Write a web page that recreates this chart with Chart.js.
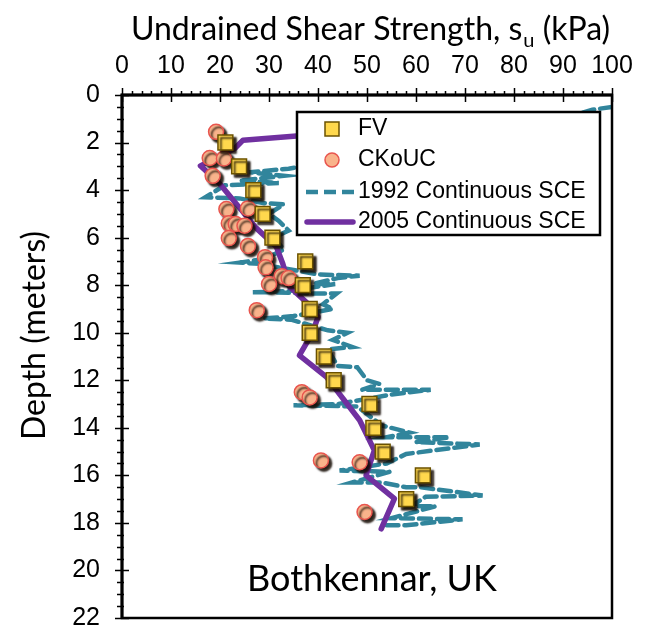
<!DOCTYPE html>
<html>
<head>
<meta charset="utf-8">
<script src="https://cdn.jsdelivr.net/npm/chart.js@4.4.1/dist/chart.umd.min.js"></script>
<style>
  html, body { margin: 0; padding: 0; background: #fff; }
  #wrap { width: 665px; height: 630px; }
</style>
</head>
<body>
<div id="wrap"><canvas id="suChart"></canvas></div>
<script>
// field vane (FV) results, one per metre
var fvDepth = [2, 3, 4, 5, 6, 7, 8, 9, 10, 11, 12, 13, 14, 15, 16, 17];
var fvSu = [21.1, 23.9, 26.8, 28.7, 30.7, 37.4, 36.9, 38.3, 38.3, 41.2, 43.2, 50.5, 51.3, 53.2, 61.4, 58.0];

// CKoUC triaxial tests
var ckDepth = [1.55, 2.65, 2.67, 3.4, 4.77, 4.8, 5.4, 5.43, 5.5, 6.02, 6.35, 6.82, 7.25, 7.62, 7.7, 7.95, 9.05, 12.5, 12.72, 15.37, 15.45, 17.54];
var ckSu = [19.2, 17.9, 20.8, 18.5, 25.7, 21.3, 21.8, 23.2, 25.0, 21.8, 25.7, 29.2, 29.3, 32.6, 34.0, 30.0, 27.5, 36.7, 38.3, 40.6, 48.5, 49.5];

// 1992 continuous SCE profile
var sce1992Depth = [0.5, 0.62, 1.3, 3.1, 3.25, 3.4, 3.6, 3.7, 3.8, 4.3, 4.35, 4.55, 4.6, 5.0, 5.3, 5.7, 6.0, 6.5, 6.9, 7.05, 7.1, 7.55, 7.6, 7.7, 7.95, 7.95, 8.25, 8.3, 8.3, 8.35, 8.35, 8.8, 9.0, 9.3, 9.4, 9.45, 9.9, 10.0, 10.3, 10.6, 10.7, 11.4, 11.45, 12.0, 12.15, 12.4, 12.4, 12.6, 13.0, 13.05, 13.1, 13.9, 14.2, 14.4, 14.4, 14.6, 14.7, 15.1, 15.5, 15.8, 15.85, 16.3, 16.3, 16.5, 16.5, 16.85, 16.9, 17.3, 17.3, 17.8, 17.85, 18.1, 18.1];
var sce1992Su = [100, 96, 85, 34, 26, 33, 24, 32, 21, 17, 24, 29, 33, 30, 32, 34, 31, 33, 29, 24, 28, 40, 48.5, 44, 39, 43.5, 34, 26.7, 31, 39, 43.8, 41, 43, 35, 29, 34.5, 42, 46, 43, 47, 42, 44, 48, 50, 52.5, 49, 63, 55, 44, 35, 48, 53, 58.7, 54, 66.8, 60, 73, 58, 54, 44.4, 54.6, 47, 53, 58, 61, 73.6, 62, 59, 64, 55, 69.5, 58, 54];

// 2005 continuous SCE profile
var sce2005Depth = [1.3, 1.72, 1.9, 2.25, 2.98, 3.72, 5.6, 6.38, 7.09, 8.07, 8.77, 9.33, 10.0, 10.95, 11.86, 13.68, 14.95, 16.0, 16.98, 18.25];
var sce2005Su = [75, 35.6, 24.7, 23.0, 16.0, 19.9, 27.4, 31.5, 32.8, 34.2, 37.9, 40.0, 38.9, 36.2, 41.7, 48.5, 51.5, 49.8, 55.6, 52.9];

var xTitle = 'Undrained Shear Strength, s';
var xTitleSub = 'u';
var xTitleTail = ' (kPa)';
var yTitle = 'Depth (meters)';
var siteLabel = 'Bothkennar, UK';

var colFV = '#FFD84D';
var colCK = '#F9B38B';
var col1992 = '#31859C';
var col2005 = '#7030A0';

function toPoints(su, depth) {
    return su.map(function (v, i) { return { x: v, y: depth[i] }; });
}

// drop shadow under the marker series
var markerShadow = {
    id: 'markerShadow',
    beforeDatasetDraw: function (chart, args) {
        if (!chart.data.datasets[args.index].shadow) return;
        var ctx = chart.ctx;
        ctx.save();
        ctx.shadowColor = 'rgba(20,10,0,0.9)';
        ctx.shadowOffsetX = 3;
        ctx.shadowOffsetY = 3;
        ctx.shadowBlur = 2;
    },
    afterDatasetDraw: function (chart, args) {
        if (!chart.data.datasets[args.index].shadow) return;
        chart.ctx.restore();
    }
};

// legend box sitting inside the plot
var boxLegend = {
    id: 'boxLegend',
    afterDatasetsDraw: function (chart) {
        var ctx = chart.ctx, a = chart.chartArea;
        var left = a.left + 175, top = a.top + 17, w = 303, h = 123;
        ctx.save();
        ctx.fillStyle = '#fff';
        ctx.fillRect(left, top, w, h);
        ctx.strokeStyle = '#000';
        ctx.lineWidth = 2.5;
        ctx.strokeRect(left, top, w, h);

        var mx = left + 35, tx = left + 61;
        var rows = [top + 17, top + 48, top + 80, top + 110];
        ctx.font = '23px "Liberation Sans", Arial, sans-serif';
        ctx.fillStyle = '#000';
        ctx.textBaseline = 'middle';
        ctx.fillText('FV', tx, rows[0]);
        ctx.fillText('CKoUC', tx, rows[1]);
        ctx.fillText('1992 Continuous SCE', tx, rows[2]);
        ctx.fillText('2005 Continuous SCE', tx, rows[3]);

        ctx.lineWidth = 1.5;
        ctx.fillStyle = colFV;
        ctx.strokeStyle = '#6b5200';
        ctx.fillRect(mx - 7, rows[0] - 7, 14, 14);
        ctx.strokeRect(mx - 7, rows[0] - 7, 14, 14);

        ctx.beginPath();
        ctx.arc(mx, rows[1], 7, 0, Math.PI * 2);
        ctx.fillStyle = colCK;
        ctx.fill();
        ctx.strokeStyle = '#E8554E';
        ctx.stroke();

        ctx.lineWidth = 4.5;
        ctx.strokeStyle = col1992;
        ctx.setLineDash([12, 6]);
        ctx.beginPath();
        ctx.moveTo(left + 9, rows[2]);
        ctx.lineTo(tx - 3, rows[2]);
        ctx.stroke();

        ctx.setLineDash([]);
        ctx.lineWidth = 5.5;
        ctx.lineCap = 'round';
        ctx.strokeStyle = col2005;
        ctx.beginPath();
        ctx.moveTo(left + 10, rows[3]);
        ctx.lineTo(tx - 5, rows[3]);
        ctx.stroke();
        ctx.restore();
    }
};

// frame, tick marks, axis titles and site name
var frameAndText = {
    id: 'frameAndText',
    afterDraw: function (chart) {
        var ctx = chart.ctx, a = chart.chartArea;
        var xs = chart.scales.x, ys = chart.scales.y;
        ctx.save();
        ctx.strokeStyle = '#000';
        ctx.lineWidth = 1.5;
        ctx.beginPath();
        for (var v = 0; v <= 100; v += 2) {
            var px = Math.round(xs.getPixelForValue(v)) + 0.5;
            var major = v % 10 === 0;
            ctx.moveTo(px, a.top - (major ? 7 : 4));
            ctx.lineTo(px, a.top + (major ? 7 : 1));
        }
        for (var d = 0; d <= 22; d += 0.5) {
            var py = Math.round(ys.getPixelForValue(d)) + 0.5;
            var maj = d % 2 === 0;
            ctx.moveTo(a.left - (maj ? 7 : 5), py);
            ctx.lineTo(a.left + (maj ? 7 : 2), py);
        }
        ctx.stroke();
        ctx.lineWidth = 2.5;
        ctx.strokeRect(a.left, a.top, a.right - a.left, a.bottom - a.top);
        ctx.lineWidth = 3;
        ctx.beginPath();
        ctx.moveTo(a.left, a.bottom);
        ctx.lineTo(a.left, a.top);
        ctx.lineTo(a.right, a.top);
        ctx.stroke();

        ctx.fillStyle = '#000';
        ctx.textBaseline = 'alphabetic';
        var big = '32px Lato, "Open Sans", sans-serif';
        var small = '20px Lato, "Open Sans", sans-serif';
        ctx.font = big;
        var w1 = ctx.measureText(xTitle).width;
        var w3 = ctx.measureText(xTitleTail).width;
        ctx.font = small;
        var w2 = ctx.measureText(xTitleSub).width;
        var x0 = (a.left + a.right) / 2 + 3 - (w1 + w2 + w3) / 2;
        var base = 40;
        ctx.font = big;
        ctx.textAlign = 'left';
        ctx.fillText(xTitle, x0, base);
        ctx.font = small;
        ctx.fillText(xTitleSub, x0 + w1 + 1, base + 7);
        ctx.font = big;
        ctx.fillText(xTitleTail, x0 + w1 + w2 + 1, base);

        ctx.save();
        ctx.translate(a.left - 87, (a.top + a.bottom) / 2 - 21);
        ctx.rotate(-Math.PI / 2);
        ctx.textAlign = 'center';
        ctx.textBaseline = 'middle';
        ctx.font = '32px Lato, "Open Sans", sans-serif';
        ctx.fillText(yTitle, 0, 0);
        ctx.restore();

        ctx.font = '36px Lato, "Open Sans", sans-serif';
        ctx.textAlign = 'center';
        ctx.fillText(siteLabel, (a.left + a.right) / 2 + 5, a.bottom - 27);
        ctx.restore();
    }
};

var tickFont = { family: '"Liberation Sans", Arial, sans-serif', size: 25 };

new Chart(document.getElementById('suChart').getContext('2d'), {
    type: 'scatter',
    data: {
        datasets: [{
            label: 'FV',
            data: toPoints(fvSu, fvDepth),
            pointStyle: 'rect',
            pointRadius: 10.5,
            backgroundColor: colFV,
            borderColor: '#6b5200',
            borderWidth: 1.5,
            shadow: true,
            order: 0
        }, {
            label: 'CKoUC',
            data: toPoints(ckSu, ckDepth),
            pointStyle: 'circle',
            pointRadius: 7.5,
            backgroundColor: colCK,
            borderColor: '#E8554E',
            borderWidth: 1.5,
            shadow: true,
            order: 1
        }, {
            label: '2005 Continuous SCE',
            data: toPoints(sce2005Su, sce2005Depth),
            showLine: true,
            pointRadius: 0,
            borderColor: col2005,
            borderWidth: 5.5,
            borderJoinStyle: 'round',
            borderCapStyle: 'round',
            order: 2
        }, {
            label: '1992 Continuous SCE',
            data: toPoints(sce1992Su, sce1992Depth),
            showLine: true,
            pointRadius: 0,
            borderColor: col1992,
            borderWidth: 4.5,
            borderDash: [12, 6],
            borderCapStyle: 'round',
            order: 3
        }]
    },
    options: {
        responsive: true,
        maintainAspectRatio: false,
        animation: false,
        layout: { padding: { top: 0, left: 0, right: 53, bottom: 12 } },
        plugins: {
            legend: { display: false },
            tooltip: { enabled: false }
        },
        scales: {
            x: {
                type: 'linear',
                position: 'top',
                min: 0,
                max: 100,
                ticks: { stepSize: 10, font: tickFont, color: '#000', padding: 14, maxRotation: 0 },
                grid: { display: false, drawTicks: false },
                border: { display: false },
                afterFit: function (s) { s.height = 95; s.paddingLeft = 0; s.paddingRight = 0; }
            },
            y: {
                type: 'linear',
                reverse: true,
                min: 0,
                max: 22,
                ticks: { stepSize: 2, font: tickFont, color: '#000', padding: 22 },
                grid: { display: false, drawTicks: false },
                border: { display: false },
                afterFit: function (s) { s.width = 122; s.paddingTop = 0; s.paddingBottom = 0; }
            }
        }
    },
    plugins: [markerShadow, boxLegend, frameAndText]
});
</script>
</body>
</html>
